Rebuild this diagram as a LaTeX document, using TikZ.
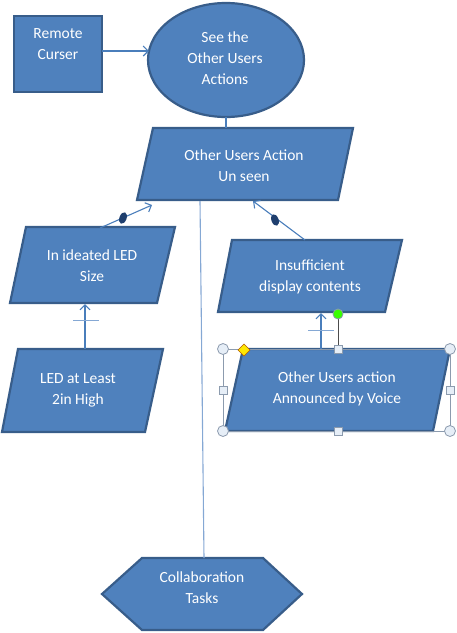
\documentclass[tikz,border=0pt]{standalone}
\usepackage{fontspec}
\setmainfont{Carlito}
\usetikzlibrary{arrows.meta}
\definecolor{boxfill}{HTML}{4F81BD}
\definecolor{boxline}{HTML}{385D8A}
\definecolor{conn}{HTML}{4A7EBB}
\definecolor{thinconn}{HTML}{85A8D4}
\definecolor{dotcol}{HTML}{1F3F6E}
\definecolor{handleline}{HTML}{8C9BAE}
\definecolor{handlefill}{HTML}{E6EEF7}
\begin{document}
\begin{tikzpicture}[x=1pt,y=-1pt,
  shapebox/.style={fill=boxfill,draw=boxline,line width=2.2pt,line join=miter},
  lbl/.style={text=white,align=center,font=\fontsize{15.5}{21}\selectfont,inner sep=0pt},
  connector/.style={draw=conn,line width=1.1pt},
  arrowconn/.style={connector,-{Straight Barb[length=5pt,width=10pt,line width=1.1pt]}},
  tickbar/.style={draw=thinconn,line width=0.9pt},
  handlecirc/.style={draw=handleline,fill=handlefill,line width=0.8pt},
  handlesq/.style={draw=handleline,fill=handlefill,line width=0.8pt}
]
\useasboundingbox (0,0) rectangle (457,633);

% ---- shapes ----
\draw[shapebox] (14,16) rectangle (102,92);
\draw[shapebox] (226,60) ellipse [x radius=78pt, y radius=57pt];
\draw[shapebox] (153,128) -- (353,128) -- (338,200) -- (137,200) -- cycle;
\draw[shapebox] (26,227) -- (175,227) -- (157,303) -- (10,303) -- cycle;
\draw[shapebox] (18,349) -- (163,349) -- (145,432) -- (2,432) -- cycle;
\draw[shapebox] (232,240) -- (402,240) -- (385,312) -- (218,312) -- cycle;
\draw[shapebox] (243,349) -- (450,349) -- (433,431) -- (225,431) -- cycle;
\draw[shapebox] (142,558) -- (263,558) -- (302,594) -- (263,630) -- (142,630) -- (102,594) -- cycle;

% ---- texts ----
\node[lbl] (rc) at (58,44) {Remote\\Curser};
\node[lbl] (see) at (225,58) {See the\\Other Users\\Actions};
\node[lbl] (unseen) at (244,166) {Other Users Action\\Un seen};
\node[lbl] (ideated) at (92,266) {In ideated LED\\Size};
\node[lbl] (led) at (78,390) {LED at Least\\2in High};
\node[lbl] (insuff) at (310,277) {Insufficient\\display contents};
\node[lbl] (voice) at (337,389) {Other Users action\\Announced by Voice};
\node[lbl] (collab) at (202,588) {Collaboration\\Tasks};

% ---- connector end points ----
\coordinate (rcE) at (102,51);
\coordinate (seeW) at (149,51);
\coordinate (seeS) at (226,117);
\coordinate (unseenN) at (226,128);
\coordinate (unseenS) at (200,201);
\coordinate (collabN) at (204,558);
\coordinate (unseenSW) at (152,205);
\coordinate (unseenSE) at (253,201);
\coordinate (ideatedN) at (100,228);
\coordinate (ideatedS) at (85,304);
\coordinate (ledN) at (85,349);
\coordinate (insuffN) at (305,240);
\coordinate (insuffS) at (321,313);
\coordinate (voiceN) at (321,349);

% ---- connectors ----
\draw[arrowconn] (rcE) -- (seeW);
\draw[connector] (seeS) -- (unseenN);
\draw[draw=thinconn,line width=1.1pt] (unseenS) -- (collabN);
\draw[arrowconn] (ideatedN) -- (unseenSW);
\draw[arrowconn] (insuffN) -- (unseenSE);
\draw[arrowconn] (ledN) -- (ideatedS);
\draw[arrowconn] (voiceN) -- (insuffS);

% markers on connectors
\fill[dotcol,rotate around={-20:(123,218)}] (123,218) ellipse [x radius=3.6pt, y radius=6pt];
\fill[dotcol,rotate around={20:(275,220)}] (275,220) ellipse [x radius=3.6pt, y radius=6pt];
\draw[tickbar] (73,320) -- (99,320);
\draw[tickbar] (308,330) -- (334,330);

% ---- selection handles around the voice shape ----
\draw[handleline,line width=0.8pt] (223,349) rectangle (450,431);
\draw[black!70,line width=0.9pt] (338,314) -- (338,349);
\draw[draw=handleline,fill=green!70!lime,line width=0.8pt] (338,314) circle [radius=5pt];
\foreach \p in {(223,349),(450,349),(223,431),(450,431)}
  \draw[handlecirc] \p circle [radius=5.5pt];
\foreach \p in {(338,349),(338,431),(223,390),(450,390)}
  \draw[handlesq] \p ++(-4,-4) rectangle ++(8,8);
\draw[draw=orange!70!black,fill=yellow!90!orange,line width=0.6pt]
  (244,344) -- (250,350) -- (244,356) -- (238,350) -- cycle;
\end{tikzpicture}
\end{document}
